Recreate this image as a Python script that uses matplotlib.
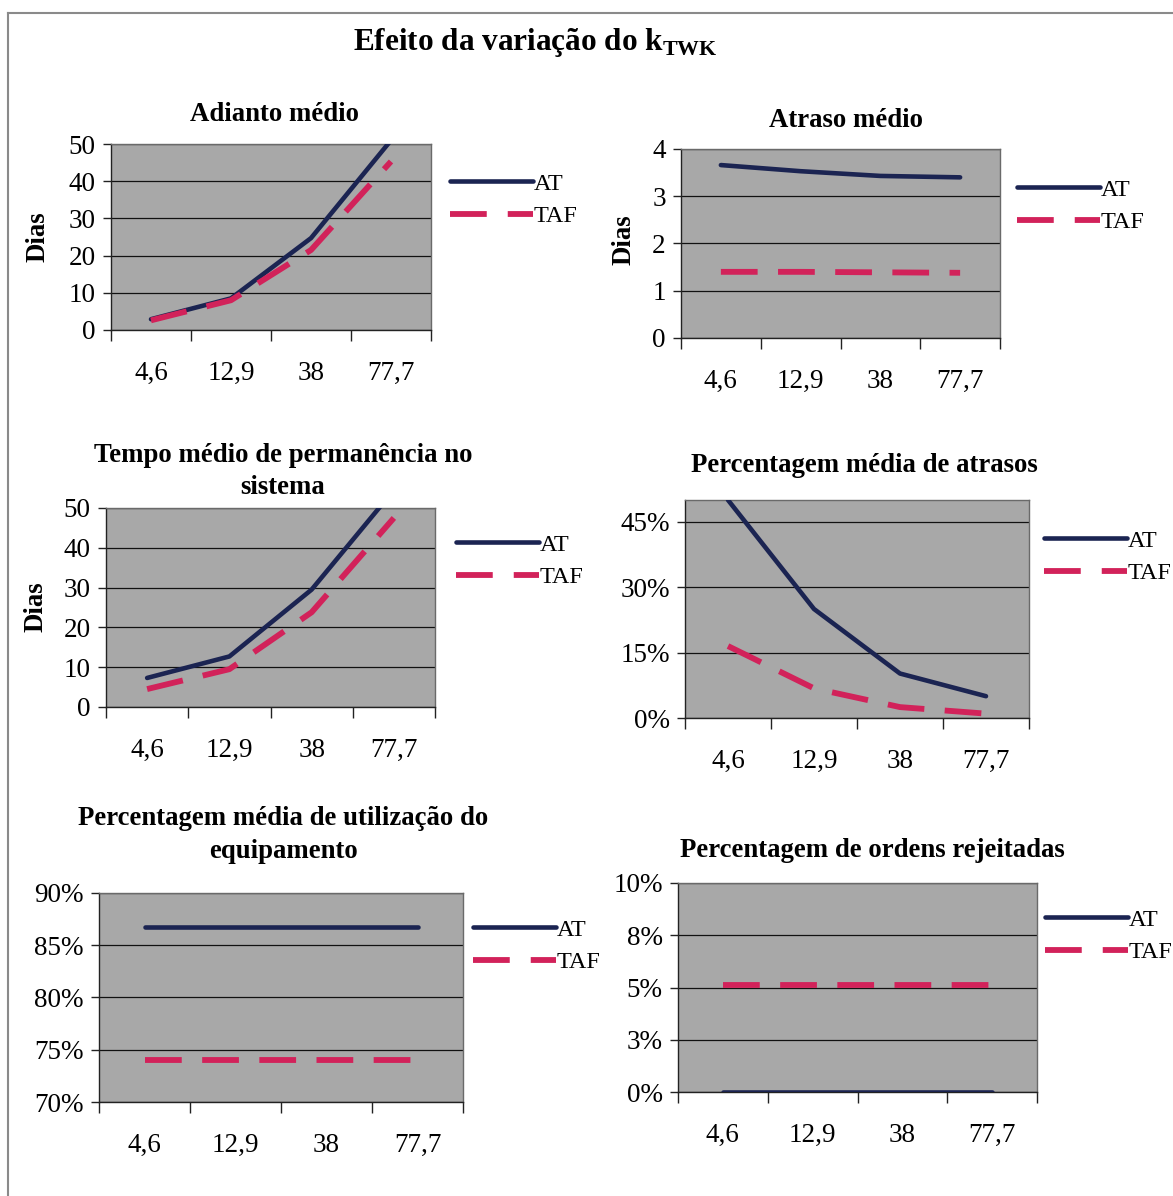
import matplotlib
matplotlib.use("Agg")
import matplotlib.pyplot as plt
from matplotlib.lines import Line2D

plt.rcParams['font.family'] = ['Liberation Serif', 'DejaVu Serif']
plt.rcParams['mathtext.fontset'] = 'custom'
plt.rcParams['mathtext.rm'] = 'Liberation Serif'
plt.rcParams['mathtext.bf'] = 'Liberation Serif:bold'

# ---------------- data ----------------
categories = ["4,6", "12,9", "38", "77,7"]
series_names = ["AT", "TAF"]

adianto_at = [2.9, 8.5, 24.7, 51.0]
adianto_taf = [2.6, 8.0, 21.5, 45.3]

atraso_at = [3.66, 3.53, 3.43, 3.40]
atraso_taf = [1.40, 1.40, 1.39, 1.38]

tempo_at = [7.3, 12.7, 29.5, 54.5]
tempo_taf = [4.5, 9.5, 23.8, 47.5]

perc_atrasos_at = [50.0, 25.0, 10.2, 5.0]
perc_atrasos_taf = [16.5, 6.8, 2.5, 1.0]

utilizacao_at = [86.7, 86.7, 86.7, 86.7]
utilizacao_taf = [74.05, 74.05, 74.05, 74.05]

rejeitadas_at = [0.0, 0.0, 0.0, 0.0]
rejeitadas_taf = [5.1, 5.1, 5.1, 5.1]

dias_ticks_50 = [0, 10, 20, 30, 40, 50]
dias_ticks_4 = [0, 1, 2, 3, 4]
atrasos_ticks = [0, 15, 30, 45]
utilizacao_ticks = [70, 75, 80, 85, 90]
rejeitadas_ticks = [0, 2.5, 5, 7.5, 10]
rejeitadas_labels = ["0%", "3%", "5%", "8%", "10%"]

main_title = r"Efeito da variação do $\mathbf{k}_{\mathbf{TWK}}$"
titles = [
    ["Adianto médio"],
    ["Atraso médio"],
    ["Tempo médio de permanência no", "sistema"],
    ["Percentagem média de atrasos"],
    ["Percentagem média de utilização do", "equipamento"],
    ["Percentagem de ordens rejeitadas"],
]

# ---------------- layout (pixels) ----------------
W, H = 1173, 1196
fig = plt.figure(figsize=(W / 100, H / 100), dpi=100)

def fx(x):
    return x / W

def fy(y):
    return 1 - y / H

AT_COLOR = "#1b2452"
TAF_COLOR = "#d2225a"
BG = "#a8a8a8"
AT_LW = 3.3
TAF_LW = 4.2
TAF_DASH = (6.3, 3.5)

TICK_FS = 19.5
TITLE_FS = 19.3
LEG_FS = 17.5

panels = [
    dict(box=(111, 144, 431, 330), at=adianto_at, taf=adianto_taf, ylim=(0, 50),
         yt=dias_ticks_50, yl=[str(v) for v in dias_ticks_50],
         tx=275, tb=[121], leg=(450, 200), dias=(38, 237)),
    dict(box=(681, 149, 1000, 338), at=atraso_at, taf=atraso_taf, ylim=(0, 4),
         yt=dias_ticks_4, yl=[str(v) for v in dias_ticks_4],
         tx=846, tb=[127], leg=(1017, 206), dias=(624, 240)),
    dict(box=(106, 508, 435, 707), at=tempo_at, taf=tempo_taf, ylim=(0, 50),
         yt=dias_ticks_50, yl=[str(v) for v in dias_ticks_50],
         tx=283, tb=[462, 494], leg=(456, 561), dias=(36, 607)),
    dict(box=(685, 500, 1029, 718), at=perc_atrasos_at, taf=perc_atrasos_taf, ylim=(0, 50),
         yt=atrasos_ticks, yl=[f"{v}%" for v in atrasos_ticks],
         tx=864, tb=[472], leg=(1044, 557), dias=None),
    dict(box=(99, 893, 463, 1102), at=utilizacao_at, taf=utilizacao_taf, ylim=(70, 90),
         yt=utilizacao_ticks, yl=[f"{v}%" for v in utilizacao_ticks],
         tx=283, tb=[825, 858], leg=(473, 946), dias=None),
    dict(box=(678, 883, 1037, 1092), at=rejeitadas_at, taf=rejeitadas_taf, ylim=(0, 10),
         yt=rejeitadas_ticks, yl=rejeitadas_labels,
         tx=872, tb=[857], leg=(1045, 936), dias=None),
]

xs = list(range(len(categories)))

for i, p in enumerate(panels):
    l, t, r, b = p["box"]
    ax = fig.add_axes([fx(l), fy(b), fx(r) - fx(l), (b - t) / H])
    ax.set_facecolor(BG)
    ax.plot(xs, p["at"], color=AT_COLOR, lw=AT_LW, solid_capstyle="round",
            solid_joinstyle="round", label=series_names[0], zorder=3)
    ax.plot(xs, p["taf"], color=TAF_COLOR, lw=TAF_LW, dashes=TAF_DASH,
            dash_capstyle="butt", label=series_names[1], zorder=3)
    ax.set_xlim(-0.5, len(categories) - 0.5)
    ax.set_ylim(*p["ylim"])
    ax.set_yticks(p["yt"])
    ax.set_yticklabels(p["yl"], fontsize=TICK_FS)
    ax.set_xticks([k - 0.5 for k in range(len(categories) + 1)])
    ax.set_xticklabels([])
    ax.set_xticks(xs, minor=True)
    ax.set_xticklabels(categories, minor=True, fontsize=TICK_FS)
    ax.tick_params(axis="x", which="major", direction="out", length=8, width=1, color="#222")
    ax.tick_params(axis="x", which="minor", length=0, pad=22)
    ax.tick_params(axis="y", direction="out", length=6, width=1, pad=5, color="#222")
    ax.yaxis.grid(True, color="#111", lw=0.9)
    ax.set_axisbelow(True)
    for s in ["top", "right"]:
        ax.spines[s].set_color("#6a6a6a")
        ax.spines[s].set_linewidth(1.0)
    for s in ["left", "bottom"]:
        ax.spines[s].set_color("#222")
        ax.spines[s].set_linewidth(1.0)

    for line_text, base in zip(titles[i], p["tb"]):
        fig.text(fx(p["tx"]), fy(base), line_text, ha="center", va="baseline",
                 fontsize=TITLE_FS, fontweight="bold")

    if p["dias"] is not None:
        fig.text(fx(p["dias"][0]), fy(p["dias"][1]), "Dias", rotation=90,
                 ha="center", va="center", fontsize=TITLE_FS, fontweight="bold")

    handles = [
        Line2D([], [], color=AT_COLOR, lw=AT_LW, solid_capstyle="round"),
        Line2D([], [], color=TAF_COLOR, lw=TAF_LW, dashes=(6.3, 3.6), dash_capstyle="butt"),
    ]
    fig.legend(handles, series_names, loc="center left",
               bbox_to_anchor=(fx(p["leg"][0]), fy(p["leg"][1])),
               bbox_transform=fig.transFigure, frameon=False, fontsize=LEG_FS,
               handlelength=3.4, handletextpad=0.05, labelspacing=0.45,
               borderpad=0, borderaxespad=0)

fig.text(fx(535), fy(50), main_title, ha="center", va="baseline",
         fontsize=22.5, fontweight="bold")

# outer frame lines
fig.add_artist(Line2D([fx(8), 1.0], [fy(13), fy(13)], color="#8a8a8a", lw=1.5))
fig.add_artist(Line2D([fx(8), fx(8)], [fy(13), 0.0], color="#8a8a8a", lw=1.5))

fig.savefig("out.png", dpi=100, facecolor="white")
